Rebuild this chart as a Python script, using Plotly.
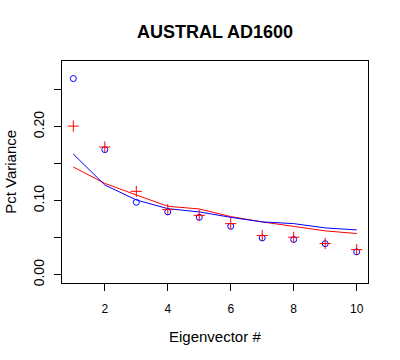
import plotly.graph_objects as go

eigen = [1, 2, 3, 4, 5, 6, 7, 8, 9, 10]
red_points = [0.2008, 0.1725, 0.1127, 0.0880, 0.0803, 0.0691, 0.0530, 0.0507, 0.0422, 0.0340]
blue_points = [0.2650, 0.1690, 0.0979, 0.0849, 0.0776, 0.0655, 0.0498, 0.0476, 0.0420, 0.0310]
red_line = [0.1455, 0.1235, 0.1078, 0.0925, 0.0889, 0.0786, 0.0714, 0.0655, 0.0593, 0.0557]
blue_line = [0.1630, 0.1213, 0.1010, 0.0893, 0.0849, 0.0776, 0.0714, 0.0691, 0.0633, 0.0606]

y_ticks = [0.00, 0.05, 0.10, 0.15, 0.20, 0.25]
y_ticktext = ["0.00", "", "0.10", "", "0.20", ""]
x_ticks = [2, 4, 6, 8, 10]

RED = "#FF0000"
BLUE = "#0000FF"
FONT = "Liberation Sans, Arial, sans-serif"

fig = go.Figure()
fig.add_trace(go.Scatter(x=eigen, y=red_line, mode="lines", line=dict(color=RED, width=1)))
fig.add_trace(go.Scatter(x=eigen, y=blue_line, mode="lines", line=dict(color=BLUE, width=1)))
fig.add_trace(go.Scatter(x=eigen, y=blue_points, mode="markers",
                         marker=dict(symbol="circle-open", size=6, color=BLUE, line=dict(width=1, color=BLUE))))
fig.add_trace(go.Scatter(x=eigen, y=red_points, mode="markers",
                         marker=dict(symbol="cross-thin-open", size=8, color=RED, line=dict(width=1, color=RED))))

fig.update_layout(
    width=400, height=360,
    margin=dict(l=62, r=32, t=61, b=77),
    paper_bgcolor="white", plot_bgcolor="white",
    showlegend=False,
    font=dict(family=FONT, color="black"),
    xaxis=dict(range=[0.64, 10.36], tickmode="array", tickvals=x_ticks,
               ticks="outside", ticklen=7, tickwidth=1, tickcolor="black",
               showline=True, linecolor="black", linewidth=1, mirror=True,
               showgrid=False, zeroline=False, tickfont=dict(size=12, family=FONT),
               ticklabelstandoff=8),
    yaxis=dict(range=[-0.0111, 0.2887], tickmode="array", tickvals=y_ticks, ticktext=y_ticktext,
               ticks="outside", ticklen=7, tickwidth=1, tickcolor="black", tickangle=-90,
               showline=True, linecolor="black", linewidth=1, mirror=True,
               showgrid=False, zeroline=False, tickfont=dict(size=14, family=FONT),
               ticklabelstandoff=4),
    annotations=[
        dict(text="<b>AUSTRAL AD1600</b>", xref="paper", yref="paper", x=0.5, y=1.1327,
             xanchor="center", yanchor="middle", showarrow=False, font=dict(size=18, family=FONT)),
        dict(text="Eigenvector #", xref="paper", yref="paper", x=0.5, y=-0.240,
             xanchor="center", yanchor="middle", showarrow=False, font=dict(size=15, family=FONT)),
        dict(text="Pct Variance", xref="paper", yref="paper", x=-0.1706, y=0.5, textangle=-90,
             xanchor="center", yanchor="middle", showarrow=False, font=dict(size=15, family=FONT)),
    ],
)

fig.write_html("out.html",
               config={"displayModeBar": False},
               post_script="document.body.style.margin='0';document.body.style.padding='0';")
